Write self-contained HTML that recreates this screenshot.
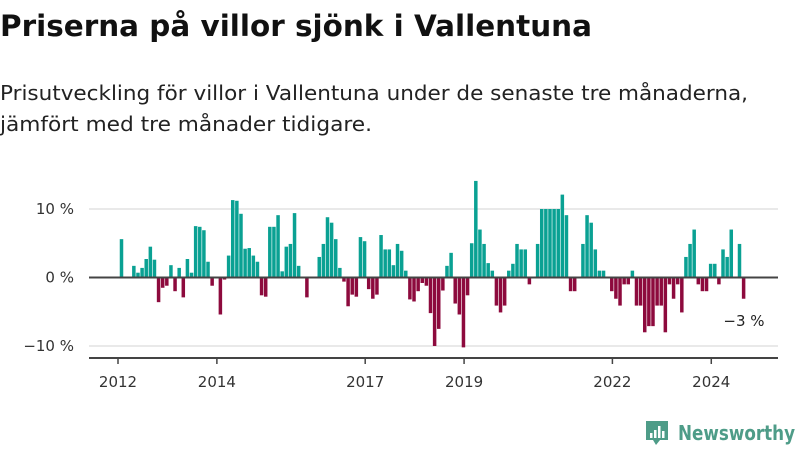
<!DOCTYPE html>
<html><head><meta charset="utf-8"><style>
html,body{margin:0;padding:0;background:#fff;}
svg{display:block;font-family:"DejaVu Sans","Liberation Sans",sans-serif;}
</style></head><body>
<svg id="chart" width="800" height="450" viewBox="0 0 800 450">
<text x="0" y="36" font-size="29" font-weight="bold" fill="#111" textLength="592" lengthAdjust="spacingAndGlyphs">Priserna på villor sjönk i Vallentuna</text>
<text x="0" y="100" font-size="20" fill="#222" textLength="748" lengthAdjust="spacingAndGlyphs">Prisutveckling för villor i Vallentuna under de senaste tre månaderna,</text>
<text x="0" y="131" font-size="20" fill="#222" textLength="372" lengthAdjust="spacingAndGlyphs">jämfört med tre månader tidigare.</text>
<g id="grid"></g>
<g id="bars"></g>
<g id="axes"></g>
<text x="744" y="326" font-size="15" fill="#222" text-anchor="middle">−3 %</text>
<g>
<path d="M646 421 h22 v19 h-8 l-4 5 l-3 -5 h-7 z" fill="#4e9c88"/>
<rect x="650" y="433" width="2.5" height="5" fill="#fff"/>
<rect x="654" y="430" width="2.5" height="8" fill="#fff"/>
<rect x="658" y="426" width="2.5" height="12" fill="#fff"/>
<rect x="662" y="431" width="2.5" height="7" fill="#fff"/>
<text x="678" y="440" font-size="20" font-weight="bold" fill="#4e9c88" textLength="117" lengthAdjust="spacingAndGlyphs">Newsworthy</text>
</g>
</svg>
<script>
const values = [5.6,0,0,1.7,0.7,1.4,2.7,4.5,2.6,-3.6,-1.5,-1.2,1.8,-2.0,1.4,-2.9,2.7,0.7,7.5,7.4,6.9,2.3,-1.2,0,-5.4,-0.3,3.2,11.3,11.2,9.3,4.2,4.3,3.2,2.3,-2.6,-2.8,7.4,7.4,9.1,0.9,4.5,4.9,9.4,1.7,0,-2.9,0,0,3.0,4.9,8.8,8.0,5.6,1.4,-0.6,-4.2,-2.5,-2.8,5.9,5.3,-1.7,-3.1,-2.5,6.2,4.1,4.1,1.8,4.9,3.9,1.0,-3.2,-3.5,-2.0,-0.8,-1.2,-5.2,-10.0,-7.5,-1.9,1.7,3.6,-3.8,-5.4,-10.2,-2.6,5.0,14.1,7.0,4.9,2.1,1.0,-4.1,-5.1,-4.1,1.0,2.0,4.9,4.1,4.1,-1.0,0,4.9,10.0,10.0,10.0,10.0,10.0,12.1,9.1,-2.0,-2.0,0,4.9,9.1,8.0,4.1,1.0,1.0,0,-2.0,-3.1,-4.1,-1.0,-1.0,1.0,-4.1,-4.1,-8.0,-7.1,-7.1,-4.1,-4.1,-8.0,-1.0,-3.1,-1.0,-5.1,3.0,4.9,7.0,-1.0,-2.0,-2.0,2.0,2.0,-1.0,4.1,3.0,7.0,0,4.9,-3.1];
const startYear = 2012;
const yTicks = [10,0,-10];
const yTickLabels = ["10 %","0 %","−10 %"];
const xTickYears = [2012,2014,2017,2019,2022,2024];

const NS="http://www.w3.org/2000/svg";
function xMonth(m){ return 119.5 + m*4.12; }
function xYear(y){ return xMonth((y-startYear)*12); }
function yVal(v){ return 277.5 - v*6.85; }
function mk(tag, attrs, parent){ const e=document.createElementNS(NS,tag); for(const k in attrs) e.setAttribute(k,attrs[k]); parent.appendChild(e); return e; }

const grid=document.getElementById('grid'), bars=document.getElementById('bars'), axes=document.getElementById('axes');
yTicks.forEach((t,i)=>{
  if(t!==0){
    const l=mk('line',{x1:89,x2:778,y1:yVal(t),y2:yVal(t),stroke:'#e2e2e2','stroke-width':1.5},grid);
    
    
  }
  const tx=mk('text',{x:74,y:yVal(t)+5,'font-size':15,fill:'#333','text-anchor':'end'},axes);
  tx.textContent=yTickLabels[i];
  
  
});
values.forEach((v,i)=>{
  const cx=xMonth(i)+2;
  const y0=yVal(0), y1=yVal(v);
  const r=mk('rect',{x:cx-1.75,width:3.5,y:Math.min(y0,y1),height:Math.abs(y1-y0),fill:v>=0?'#0aa193':'#8d0a3d'},bars);
  
  
});
const zl=mk('line',{x1:89,x2:778,y1:yVal(0),y2:yVal(0),stroke:'#444','stroke-width':2},axes);


const xa=mk('line',{x1:89,x2:778,y1:358,y2:358,stroke:'#444','stroke-width':2},axes);


xTickYears.forEach(y=>{
  const x=xYear(y)-1.5;
  const tk=mk('line',{x1:x,x2:x,y1:358,y2:364,stroke:'#444','stroke-width':1.5},axes);
  
  
  const tx=mk('text',{x:x,y:387,'font-size':15,fill:'#333','text-anchor':'middle'},axes);
  tx.textContent=String(y);
  
  
});
</script>
</body></html>
